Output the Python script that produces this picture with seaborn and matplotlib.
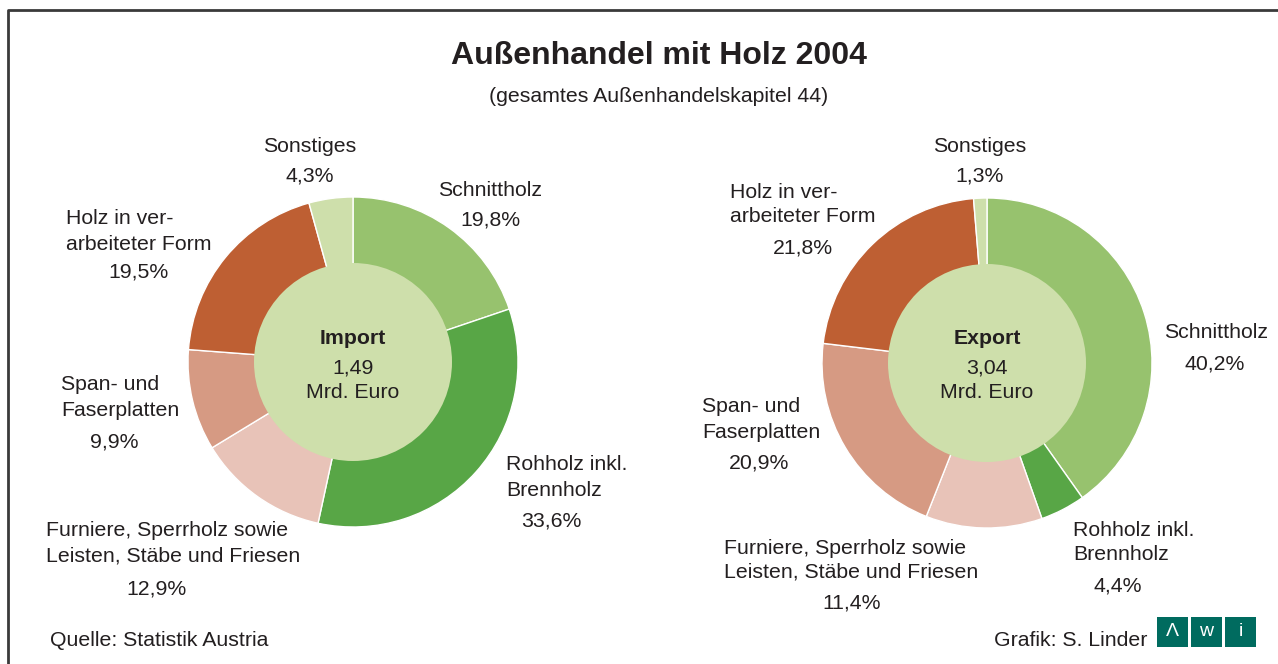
import matplotlib
matplotlib.use("Agg")
import matplotlib.pyplot as plt
from matplotlib.patches import Circle, Rectangle
import seaborn as sns

# shares in percent, clockwise from 12 o'clock
categories = ["Schnittholz", "Rohholz inkl. Brennholz", "Furniere, Sperrholz sowie Leisten, Stäbe und Friesen",
              "Span- und Faserplatten", "Holz in verarbeiteter Form", "Sonstiges"]
import_share = [19.8, 33.6, 12.9, 9.9, 19.5, 4.3]
export_share = [40.2, 4.4, 11.4, 20.9, 21.8, 1.3]
import_total = "1,49"
export_total = "3,04"

colors = ["#97c26e", "#58a646", "#e8c3b8", "#d69a83", "#be5f33", "#cedfab"]
center_color = "#cedfab"
txt = "#231f20"
fs = 15.3

sns.set_theme(style="white")
plt.rcParams['font.family'] = ['Liberation Sans', 'DejaVu Sans']

W, H = 1278, 664
fig = plt.figure(figsize=(W / 100, H / 100), dpi=100)
ax = fig.add_axes([0, 0, 1, 1])


def Y(y):
    # pixel row (from top) -> data y
    return H - y


def pct(v):
    return f"{v:.1f}".replace(".", ",") + "%"


def donut(cx, cy, shares, name, total):
    ax.pie(shares, colors=colors, startangle=90, counterclock=False,
           center=(cx, Y(cy)), radius=165, frame=True,
           wedgeprops=dict(edgecolor="white", linewidth=1.0))
    ax.add_patch(Circle((cx, Y(cy)), 99, facecolor=center_color, edgecolor="none", zorder=3))
    ax.text(cx, Y(338), name, ha="center", va="center", fontsize=fs, fontweight="bold", color=txt, zorder=4)
    ax.text(cx, Y(368), total, ha="center", va="center", fontsize=fs, color=txt, zorder=4)
    ax.text(cx, Y(392), "Mrd. Euro", ha="center", va="center", fontsize=fs, color=txt, zorder=4)


donut(353, 362, import_share, "Import", import_total)
donut(987, 363, export_share, "Export", export_total)


def t(x, y, s, ha="center"):
    ax.text(x, Y(y), s, ha=ha, va="center", fontsize=fs, color=txt)


# Import labels
t(310, 146, "Sonstiges"); t(310, 176, pct(import_share[5]))
t(490, 190, "Schnittholz"); t(490, 220, pct(import_share[0]))
t(66, 218, "Holz in ver-", "left"); t(66, 244, "arbeiteter Form", "left"); t(138, 272, pct(import_share[4]))
t(61, 385, "Span- und", "left"); t(61, 410, "Faserplatten", "left"); t(114, 442, pct(import_share[3]))
t(46, 530, "Furniere, Sperrholz sowie", "left"); t(46, 556, "Leisten, Stäbe und Friesen", "left")
t(157, 589, pct(import_share[2]))
t(506, 465, "Rohholz inkl.", "left"); t(506, 490, "Brennholz", "left"); t(551, 521, pct(import_share[1]))

# Export labels
t(980, 146, "Sonstiges"); t(980, 176, pct(export_share[5]))
t(730, 192, "Holz in ver-", "left"); t(730, 216, "arbeiteter Form", "left"); t(803, 248, pct(export_share[4]))
t(1164, 332, "Schnittholz", "left"); t(1215, 364, pct(export_share[0]))
t(702, 407, "Span- und", "left"); t(702, 432, "Faserplatten", "left"); t(759, 463, pct(export_share[3]))
t(724, 548, "Furniere, Sperrholz sowie", "left"); t(724, 572, "Leisten, Stäbe und Friesen", "left")
t(852, 603, pct(export_share[2]))
t(1073, 530, "Rohholz inkl.", "left"); t(1073, 555, "Brennholz", "left"); t(1118, 586, pct(export_share[1]))

# titles
ax.text(659, Y(56), "Außenhandel mit Holz 2004", ha="center", va="center",
        fontsize=23, fontweight="bold", color=txt)
ax.text(659, Y(97), "(gesamtes Außenhandelskapitel 44)", ha="center", va="center", fontsize=fs, color=txt)

# footer
ax.text(50, Y(640), "Quelle: Statistik Austria", ha="left", va="center", fontsize=fs, color=txt)
ax.text(1147, Y(640), "Grafik: S. Linder", ha="right", va="center", fontsize=fs, color=txt)
for bx, ch in zip([1157, 1191, 1225], ["\u039b", "w", "i"]):
    ax.add_patch(Rectangle((bx, Y(647)), 31, 30, facecolor="#006b5f", edgecolor="none"))
    ax.text(bx + 15.5, Y(632), ch, ha="center", va="center", fontsize=14, color="white")

# frame lines
ax.plot([8, 8, W], [0, Y(10), Y(10)], color="#3a3a3a", lw=2, solid_capstyle="butt")

ax.set_xlim(0, W)
ax.set_ylim(0, H)
ax.set_aspect("equal")
ax.axis("off")

fig.savefig("out.png", dpi=100, facecolor="white")
